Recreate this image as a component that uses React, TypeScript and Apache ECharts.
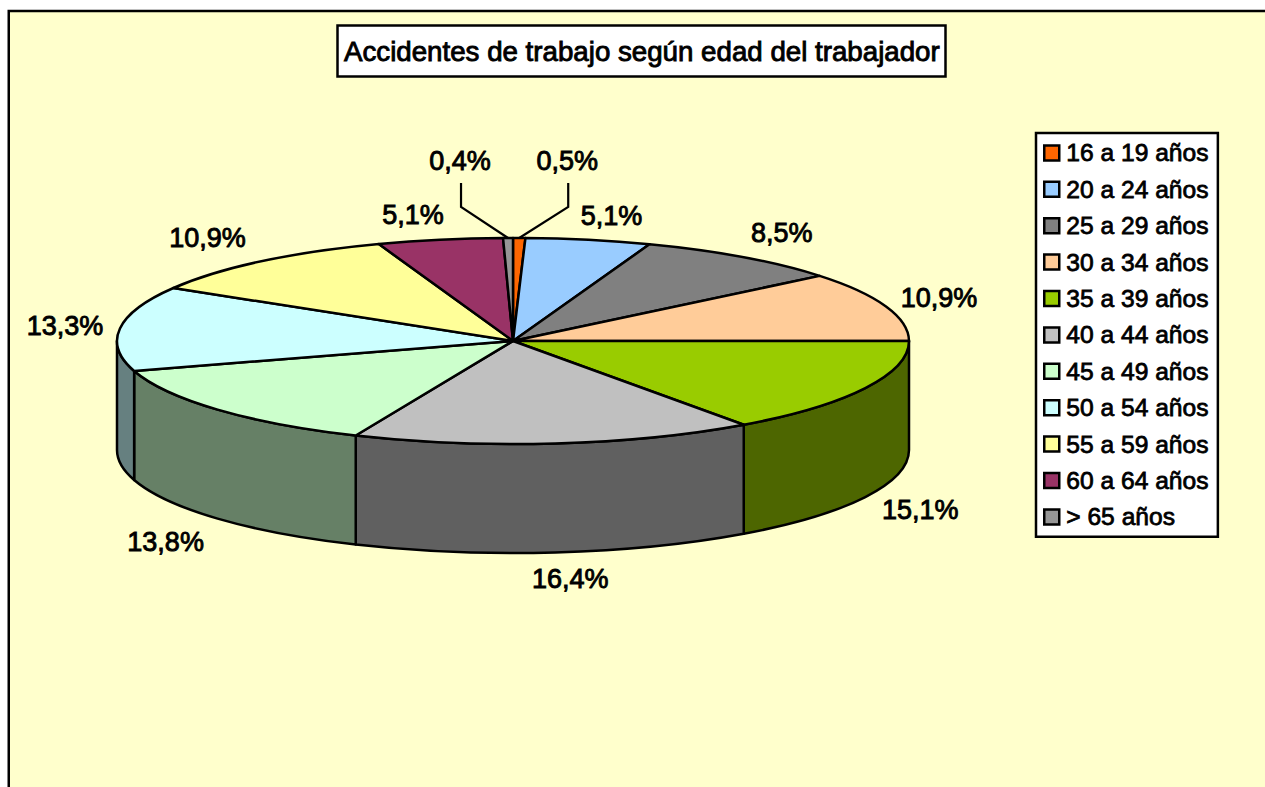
import React, { useEffect, useRef } from "react";
import * as echarts from "echarts";

const titleText = "Accidentes de trabajo según edad del trabajador";
const categories = ["16 a 19 años", "20 a 24 años", "25 a 29 años", "30 a 34 años", "35 a 39 años", "40 a 44 años", "45 a 49 años", "50 a 54 años", "55 a 59 años", "60 a 64 años", "> 65 años"];
const values = [0.5, 5.1, 8.5, 10.9, 15.1, 16.4, 13.8, 13.3, 10.9, 5.1, 0.4];
const topColors = ["#FF6600", "#99CCFF", "#808080", "#FFCC99", "#99CC00", "#C0C0C0", "#CCFFCC", "#CCFFFF", "#FFFF99", "#993366", "#969696"];
const sideColors = ["#803300", "#4D6680", "#404040", "#80664D", "#4D6600", "#606060", "#668066", "#668080", "#808050", "#4D1A33", "#4B4B4B"];
// Label centre, relative to the rim point at the middle of each slice.
const labelOffsets = [[48, -77], [23, -24], [39, -24], [53, -8], [55, 122], [15, 136], [-52, 132], [-55, -2], [-54, -23], [-27, -25], [-48, -77]];
// Elbow leader lines (relative to the same rim point).
const leaders: Record<number, number[][]> = { 0: [[49, -55], [49, -31]], 10: [[-47, -55], [-47, -31]] };

const FONT = '"Liberation Sans", Arial, sans-serif';
const CX = 513, CY = 341, RX = 396, RY = 103, DEPTH = 109;
const total = values.reduce((a, b) => a + b, 0);

const pt = (deg: number, dy = 0) => {
  const r = (deg * Math.PI) / 180;
  return [CX + RX * Math.sin(r), CY - RY * Math.cos(r) + dy];
};
const fmt = (p: number[]) => `${p[0].toFixed(2)} ${p[1].toFixed(2)}`;

const startAngle = (i: number) => (values.slice(0, i).reduce((a, b) => a + b, 0) / total) * 360;

function sliceItem(i: number) {
  const a0 = startAngle(i);
  const a1 = startAngle(i + 1);
  const children: any[] = [];
  const s0 = Math.max(a0, 90);
  const s1 = Math.min(a1, 270);
  if (s1 > s0) {
    children.push({
      type: "path",
      shape: {
        pathData: `M ${fmt(pt(s0))} A ${RX} ${RY} 0 0 1 ${fmt(pt(s1))} L ${fmt(pt(s1, DEPTH))} A ${RX} ${RY} 0 0 0 ${fmt(pt(s0, DEPTH))} Z`,
      },
      style: { fill: sideColors[i], stroke: "#000", lineWidth: 2.5, lineJoin: "round" },
    });
  }
  children.push({
    type: "path",
    shape: {
      pathData: `M ${CX} ${CY} L ${fmt(pt(a0))} A ${RX} ${RY} 0 0 1 ${fmt(pt(a1))} Z`,
    },
    style: { fill: topColors[i], stroke: "#000", lineWidth: 2.5, lineJoin: "round" },
  });
  const anchor = pt((a0 + a1) / 2);
  const off = labelOffsets[i];
  if (leaders[i]) {
    children.push({
      type: "polyline",
      shape: { points: [...leaders[i].map((o) => [anchor[0] + o[0], anchor[1] + o[1]]), anchor] },
      style: { fill: "none", stroke: "#000", lineWidth: 2.2 },
    });
  }
  children.push({
    type: "text",
    x: anchor[0] + off[0],
    y: anchor[1] + off[1],
    style: {
      text: values[i].toFixed(1).replace(".", ",") + "%",
      font: `27px ${FONT}`,
      fill: "#000",
      stroke: "#000",
      lineWidth: 0.9,
      align: "center",
      verticalAlign: "middle",
    },
  });
  return { type: "group", children };
}

export default function App() {
  const ref = useRef<HTMLDivElement>(null);
  useEffect(() => {
    const chart = echarts.init(ref.current!, null, { renderer: "svg" });
    chart.setOption({
      animation: false,
      backgroundColor: "#FFFFFF",
      title: {
        text: titleText,
        left: 338,
        top: 26,
        padding: [11, 6, 11, 6],
        backgroundColor: "#FFFFFF",
        borderColor: "#000",
        borderWidth: 2.5,
        textStyle: {
          fontFamily: FONT,
          fontSize: 27.7,
          fontWeight: "normal",
          color: "#000",
          textBorderColor: "#000",
          textBorderWidth: 0.9,
        },
      },
      legend: {
        orient: "vertical",
        left: 1036,
        top: 133,
        padding: [7, 9, 7, 7],
        backgroundColor: "#FFFFFF",
        borderColor: "#000",
        borderWidth: 2.5,
        borderRadius: 0,
        itemWidth: 15,
        itemHeight: 15,
        itemGap: 10.6,
        selectedMode: false,
        data: categories.map((name, i) => ({
          name,
          icon: "rect",
          itemStyle: { color: topColors[i], borderColor: "#000", borderWidth: 2.5 },
        })),
        textStyle: {
          fontFamily: FONT,
          fontSize: 24.6,
          color: "#000",
          padding: [0, 0, 0, 2],
          textBorderColor: "#000",
          textBorderWidth: 0.8,
        },
      },
      graphic: [
        {
          type: "rect",
          silent: true,
          z: -1,
          shape: { x: 8.75, y: 11, width: 1400, height: 1000 },
          style: { fill: "#FFFFCC", stroke: "#000", lineWidth: 2.5 },
        },
      ],
      series: categories.map((name, i) => ({
        type: "custom",
        name,
        coordinateSystem: "none",
        silent: true,
        z: 2,
        itemStyle: { color: topColors[i] },
        data: [values[i]],
        renderItem: () => sliceItem(i),
      })),
    });
    return () => chart.dispose();
  }, []);
  return <div ref={ref} style={{ position: "fixed", left: 0, top: 0, width: 1265, height: 787 }} />;
}
